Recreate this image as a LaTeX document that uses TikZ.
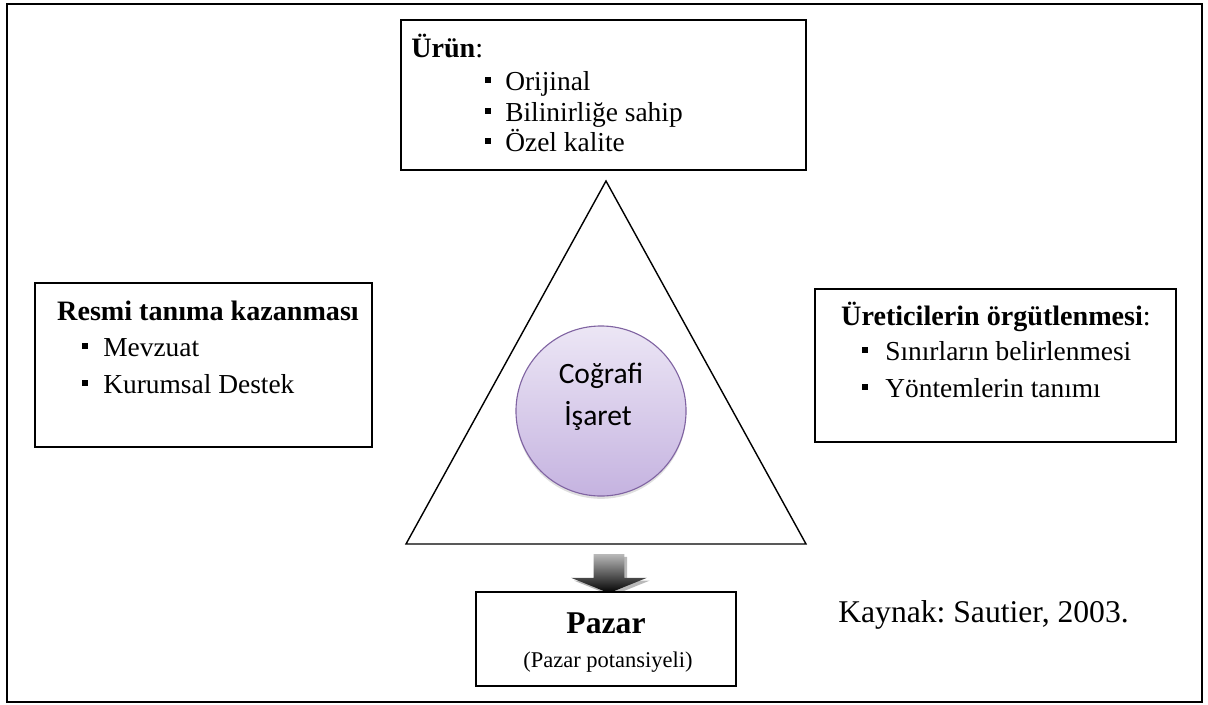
\documentclass[tikz,border=0pt]{standalone}
\usepackage{fontspec}
\setmainfont{Liberation Serif}
\newfontfamily\circlefont{Carlito}
\usepackage{xcolor}
\usetikzlibrary{shapes.arrows, shadows, positioning}
\frenchspacing
\definecolor{ciborder}{HTML}{8064A2}
\definecolor{citop}{HTML}{ECE6F5}
\definecolor{cibottom}{HTML}{C5B3E0}
\tikzset{
    frame/.style={
        rectangle,
        draw=black,
        line width=1.4pt,
        inner sep=0pt
    },
    infobox/.style={
        rectangle,
        draw=black,
        line width=1.2pt,
        fill=white,
        inner sep=0pt
    },
    headtext/.style={
        inner sep=0pt,
        anchor=base,
        font=\fontsize{20}{24}\selectfont\bfseries
    },
    itemtext/.style={
        inner sep=0pt,
        anchor=base west,
        font=\fontsize{19.5}{23}\selectfont
    },
    bullet/.style={
        rectangle,
        fill=black,
        inner sep=0pt,
        minimum size=0.17cm
    },
    isaret/.style={
        circle,
        draw=ciborder,
        line width=0.8pt,
        top color=citop,
        bottom color=cibottom,
        minimum size=4.25cm,
        drop shadow={opacity=0.25, shadow xshift=0pt, shadow yshift=-2pt}
    },
    downarrow/.style={
        single arrow,
        shape border rotate=270,
        draw=none,
        top color=gray!55,
        bottom color=black,
        inner sep=0.375cm,
        minimum width=1.875cm,
        minimum height=0.975cm,
        single arrow head extend=0.5625cm,
        single arrow tip angle=136,
        drop shadow={opacity=0.55, shadow xshift=2pt, shadow yshift=-2pt}
    }
}

\begin{document}
\begin{tikzpicture}[x=0.025cm, y=-0.025cm]

\useasboundingbox (0,0) rectangle (1208,704);
\node[frame, minimum width=29.875cm, minimum height=17.45cm] (frame) at (604.5,353) {};

% triangle
\coordinate (apex) at (606,181);
\coordinate (baseL) at (406,544);
\coordinate (baseR) at (806,544);
\draw[line width=1pt, line join=miter] (apex) -- (baseL) -- (baseR) -- cycle;

\node[isaret] (ci) at (601,411) {};
\node[inner sep=0pt, anchor=base, font=\circlefont\fontsize{21}{25}\selectfont] (ci1) at (601,383) {Coğrafi};
\node[inner sep=0pt, anchor=base, font=\circlefont\fontsize{21}{25}\selectfont] (ci2) at (598,425) {İşaret};

% product box
\node[infobox, minimum width=10.125cm, minimum height=3.75cm] (urun) at (603.5,95) {};
\node[itemtext, font=\fontsize{20}{24}\selectfont] (urunT) at (411,57) {\textbf{Ürün}:};
\node[bullet] (ub1) at (488,80) {};
\node[itemtext] (u1) at (505,90) {Orijinal};
\node[bullet] (ub2) at (488,111) {};
\node[itemtext] (u2) at (505,121) {Bilinirliğe sahip};
\node[bullet] (ub3) at (488,141) {};
\node[itemtext] (u3) at (505,151) {Özel kalite};

% recognition box
\node[infobox, minimum width=8.425cm, minimum height=4.1cm] (resmi) at (203.5,365) {};
\node[headtext] (resmiT) at (208,320) {Resmi tanıma kazanması};
\node[bullet] (rb1) at (85,346) {};
\node[itemtext] (r1) at (103,356) {Mevzuat};
\node[bullet] (rb2) at (85,383) {};
\node[itemtext] (r2) at (103,393) {Kurumsal Destek};

% producers box
\node[infobox, minimum width=9.025cm, minimum height=3.825cm] (uret) at (995.5,365.5) {};
\node[headtext] (uretT) at (996,325) {Üreticilerin örgütlenmesi\textmd{:}};
\node[bullet] (pb1) at (865,350) {};
\node[itemtext] (p1) at (885,360) {Sınırların belirlenmesi};
\node[bullet] (pb2) at (865,387) {};
\node[itemtext] (p2) at (885,397) {Yöntemlerin tanımı};

% market
\node[downarrow] (arr) at (609,570.5) {};
\node[infobox, minimum width=6.5cm, minimum height=2.35cm] (pazar) at (606,639) {};
\node[inner sep=0pt, anchor=base, font=\fontsize{22.5}{26}\selectfont\bfseries] (pazarT) at (606,633) {Pazar};
\node[inner sep=0pt, anchor=base, font=\fontsize{16}{19}\selectfont] (pazarS) at (608,667) {(Pazar potansiyeli)};

\node[inner sep=0pt, anchor=base west, font=\fontsize{22.5}{26}\selectfont] (kaynak) at (838,622) {Kaynak: Sautier, 2003.};

\end{tikzpicture}
\end{document}
